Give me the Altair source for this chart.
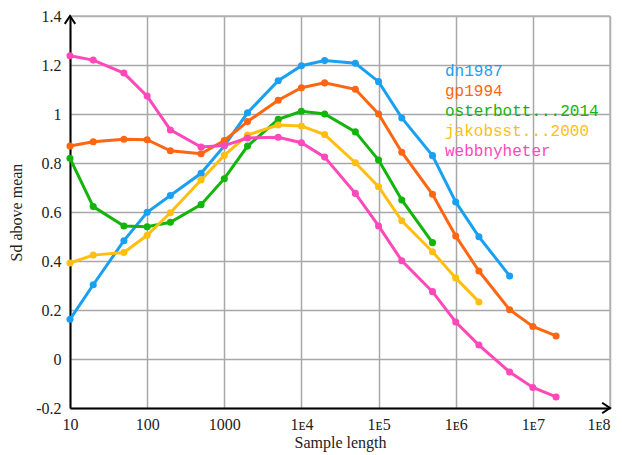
import altair as alt
import pandas as pd

series_names = ["dn1987", "gp1994", "osterbott...2014", "jakobsst...2000", "webbnyheter"]
series_colors = ["#1aa0f2", "#ff6612", "#12b50a", "#ffbf10", "#ff48b9"]

sample_lengths = [10, 20, 50, 100, 200, 500, 1000, 2000, 5000, 1e4, 2e4, 5e4,
                  1e5, 2e5, 5e5, 1e6, 2e6, 5e6, 1e7, 2e7]

dn1987 = [0.162, 0.303, 0.483, 0.599, 0.667, 0.758, 0.870, 1.005, 1.136, 1.197,
          1.218, 1.207, 1.132, 0.984, 0.830, 0.641, 0.499, 0.339]
gp1994 = [0.869, 0.887, 0.897, 0.895, 0.850, 0.838, 0.892, 0.969, 1.056, 1.107,
          1.127, 1.101, 1.000, 0.844, 0.672, 0.502, 0.359, 0.201, 0.133, 0.094]
osterbott = [0.819, 0.622, 0.543, 0.540, 0.558, 0.630, 0.736, 0.869, 0.978, 1.011,
             1.000, 0.927, 0.812, 0.649, 0.475]
jakobsst = [0.392, 0.424, 0.435, 0.505, 0.597, 0.731, 0.831, 0.914, 0.955, 0.951,
            0.916, 0.801, 0.703, 0.564, 0.438, 0.331, 0.233]
webbnyheter = [1.238, 1.220, 1.167, 1.073, 0.935, 0.865, 0.871, 0.902, 0.905, 0.883,
               0.824, 0.676, 0.543, 0.401, 0.275, 0.151, 0.057, -0.053, -0.116, -0.155]

x_ticks = [10, 100, 1000, 1e4, 1e5, 1e6, 1e7, 1e8]
x_tick_labels = ["10", "100", "1000", "1ᴇ4", "1ᴇ5", "1ᴇ6", "1ᴇ7", "1ᴇ8"]
y_ticks = [-0.2, 0, 0.2, 0.4, 0.6, 0.8, 1, 1.2, 1.4]
y_tick_labels = ["-0.2", "0", "0.2", "0.4", "0.6", "0.8", "1", "1.2", "1.4"]

all_series = [dn1987, gp1994, osterbott, jakobsst, webbnyheter]
rows = []
for name, vals in zip(series_names, all_series):
    for i, v in enumerate(vals):
        rows.append({"series": name, "order": series_names.index(name), "x": sample_lengths[i], "y": v})
df = pd.DataFrame(rows)

xlab = "[" + ",".join("'%s'" % s for s in x_tick_labels) + "]"
ylab = "[" + ",".join("'%s'" % s for s in y_tick_labels) + "]"

xscale = alt.Scale(type="log", domain=[10, 1e8], nice=False)
yscale = alt.Scale(domain=[-0.2, 1.4], nice=False, zero=False)
color_scale = alt.Scale(domain=series_names, range=series_colors)

FONT = "Liberation Serif"

x_axis = alt.Axis(values=x_ticks, labelExpr=xlab + "[round(log(datum.value)/LN10) - 1]",
                  title="Sample length", grid=True, gridColor="#a8a8a8", gridWidth=1.5,
                  domain=True, domainColor="black", domainWidth=2, ticks=False,
                  labelFont=FONT, labelFontSize=16, labelColor="#222", labelPadding=8,
                  labelAlign={"condition": {"test": "datum.value >= 1e8", "value": "right"}, "value": "center"},
                  titleFont=FONT, titleFontSize=16, titleFontWeight="normal", titleColor="#222",
                  titleX=270, titleY=39, titleBaseline="alphabetic", labelFlush=False,
                  labelOverlap=False, labelBound=False)
y_axis = alt.Axis(values=y_ticks, labelExpr=ylab + "[round((datum.value + 0.2) * 5)]",
                  title="Sd above mean", grid=True, gridColor="#a8a8a8", gridWidth=1.5,
                  domain=True, domainColor="black", domainWidth=2, ticks=False,
                  labelFont=FONT, labelFontSize=16, labelColor="#222", labelPadding=9,
                  titleFont=FONT, titleFontSize=16, titleFontWeight="normal", titleColor="#222",
                  titleX=-49, titleY=196, titleAngle=-90, titleBaseline="alphabetic",
                  labelFlush=False, labelOverlap=False)

base = alt.Chart(df).encode(
    x=alt.X("x:Q", scale=xscale, axis=x_axis),
    y=alt.Y("y:Q", scale=yscale, axis=y_axis),
    color=alt.Color("series:N", scale=color_scale, legend=None),
    order="order:Q",
)

lines = base.mark_line(strokeWidth=3, point=alt.OverlayMarkDef(filled=True, size=50, opacity=1))

frame_top = alt.Chart(pd.DataFrame({"a": [0]})).mark_rule(color="#b4b4b4", strokeWidth=1.5).encode(
    x=alt.value(0), x2=alt.value(540), y=alt.value(0))
frame_right = alt.Chart(pd.DataFrame({"a": [0]})).mark_rule(color="#b4b4b4", strokeWidth=1.5).encode(
    x=alt.value(540), y=alt.value(0), y2=alt.value(392))

arrow_up = alt.Chart(pd.DataFrame({"a": [0]})).mark_point(
    shape="M -1 1.5 L 0 0 L 1 1.5", size=110, filled=False, stroke="black", strokeWidth=2, opacity=1
).encode(x=alt.value(0), y=alt.value(0))
arrow_right = alt.Chart(pd.DataFrame({"a": [0]})).mark_point(
    shape="M -1.5 -1 L 0 0 L -1.5 1", size=110, filled=False, stroke="black", strokeWidth=2, opacity=1
).encode(x=alt.value(540), y=alt.value(392))

legend_layers = []
for i, (name, col) in enumerate(zip(series_names, series_colors)):
    legend_layers.append(
        alt.Chart(pd.DataFrame({"a": [0]})).mark_text(
            font="Liberation Mono", fontSize=16, align="left", baseline="middle", color=col
        ).encode(x=alt.value(375), y=alt.value(55 + 20 * i), text=alt.value(name))
    )

chart = alt.layer(frame_top, frame_right, lines, arrow_up, arrow_right, *legend_layers).properties(
    width=540, height=392,
    autosize=alt.AutoSizeParams(type="none"),
    padding={"left": 62, "top": 8, "right": 4, "bottom": 44},
).configure_view(stroke=None).configure(background="white")

chart.save("out.html", embed_options={"renderer": "svg", "actions": False})
